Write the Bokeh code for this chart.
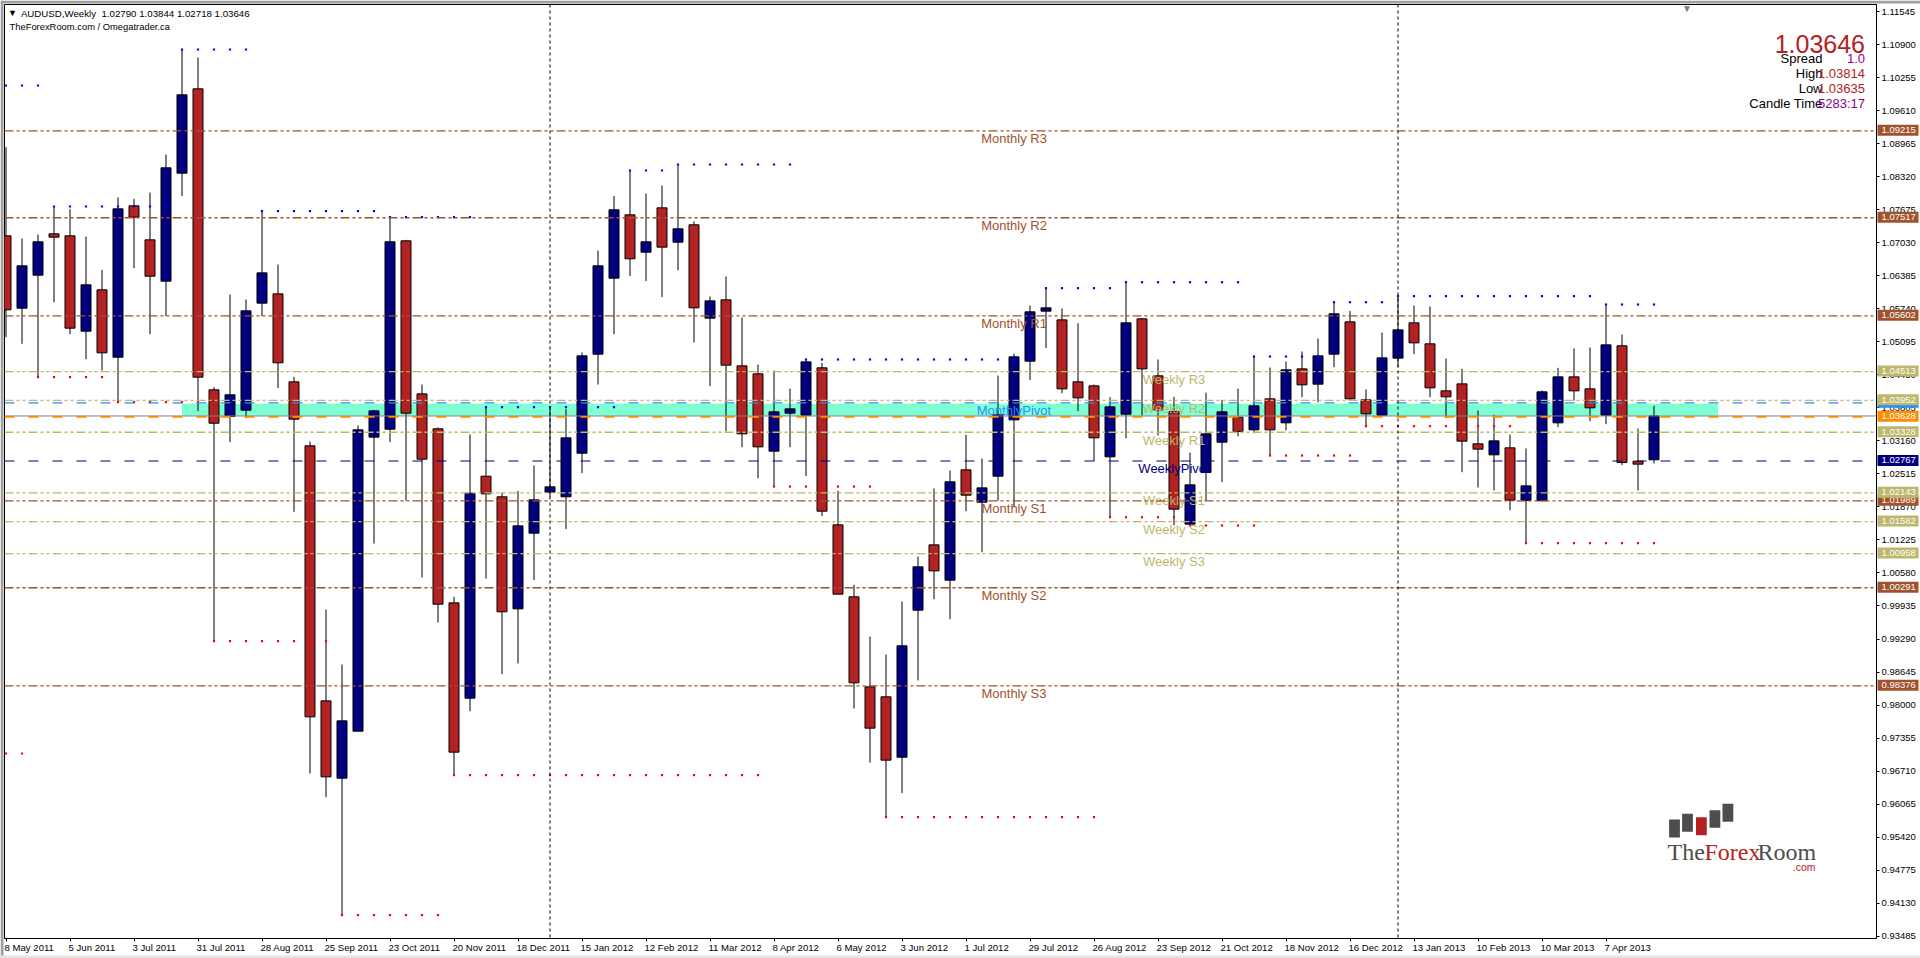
from bokeh.plotting import figure
from bokeh.embed import file_html
from bokeh.resources import INLINE
from bokeh.models import Range1d, FixedTicker, PrintfTickFormatter, Span, Label
from bokeh.core.properties import value

# ---- data (weekly AUDUSD bars) ----
opens = [1.07164,1.05751,1.06396,1.07203,1.07164,1.05302,1.06109,1.04794,1.07750,1.07086,1.06279,1.08388,1.10035,1.04156,1.03636,1.03759,1.05849,1.06031,1.04313,1.03063,
0.98082,0.96572,0.97490,1.03232,1.03388,1.07066,1.04078,1.03395,0.99996,0.98135,1.02470,1.02067,0.99879,1.01357,1.02158,1.02067,1.02919,1.04853,1.06337,1.07574,
1.06845,1.07711,1.07040,1.07379,1.05556,1.05914,1.04625,1.04469,1.02958,1.03701,1.03662,1.04586,1.01520,1.00114,0.98356,0.98161,0.96982,0.99853,1.01129,1.00439,
1.02594,1.01962,1.02470,1.03570,1.04716,1.05693,1.05523,1.04313,1.04234,1.02848,1.03681,1.05543,1.04430,1.03733,1.01533,1.02542,1.03134,1.03622,1.03375,1.03981,
1.03512,1.04566,1.04267,1.04853,1.05484,1.03961,1.03662,1.04775,1.05465,1.05055,1.04137,1.04273,1.03102,1.02887,1.03024,1.01995,1.01991,1.03512,1.04410,1.04176,
1.03662,1.05016,1.02763,1.02790]
highs = [1.08896,1.07112,1.07190,1.07737,1.07685,1.07151,1.06500,1.07913,1.07887,1.08010,1.08752,1.10803,1.10647,1.04208,1.06018,1.05920,1.07646,1.06604,1.04410,1.03147,
0.99866,0.98792,1.03460,1.03766,1.07529,1.07086,1.04260,1.03421,1.00114,1.03284,1.03818,1.02151,1.02184,1.02679,1.03831,1.03779,1.04885,1.06877,1.07945,1.08440,
1.07991,1.08147,1.08557,1.07444,1.05979,1.06370,1.05569,1.04651,1.04534,1.04182,1.04762,1.04684,1.02184,1.00348,0.99339,0.98987,1.00022,1.00901,1.02229,1.02581,
1.03277,1.02815,1.04436,1.04859,1.05803,1.06142,1.05745,1.05458,1.04260,1.04013,1.06259,1.05562,1.04749,1.04020,1.02932,1.04098,1.03961,1.04182,1.04807,1.04592,
1.04710,1.04905,1.05159,1.05868,1.05699,1.04163,1.05276,1.05986,1.05803,1.05784,1.04768,1.04566,1.03753,1.03668,1.03284,1.03011,1.04143,1.04586,1.04964,1.04983,
1.05823,1.05237,1.03401,1.03844]
lows = [1.05185,1.05055,1.04404,1.05868,1.05244,1.04755,1.04534,1.03915,1.06532,1.05244,1.05595,1.07939,1.03740,0.99248,1.03134,1.03603,1.05595,1.04189,1.01774,0.96663,
0.96201,0.93896,0.97490,1.01155,1.03134,1.01991,1.00491,0.99612,0.96631,0.97881,1.00472,0.98603,0.98812,1.00439,1.02060,1.01435,1.02529,1.04260,1.05244,1.06376,
1.06279,1.05966,1.06493,1.05081,1.04228,1.03343,1.03037,1.02431,1.02262,1.03037,1.02470,1.01689,1.00166,0.97933,0.96878,0.95810,0.96279,0.98480,1.00068,0.99677,
1.01787,1.00986,1.01991,1.01871,1.04345,1.04970,1.04091,1.03740,1.02770,1.01676,1.03212,1.03655,1.03264,1.01513,1.01507,1.01988,1.02353,1.03251,1.03310,1.02874,
1.03362,1.04013,1.03915,1.04599,1.03961,1.03447,1.03642,1.04599,1.04853,1.04013,1.03603,1.02548,1.02249,1.02190,1.01806,1.01162,1.01991,1.03427,1.03948,1.03544,
1.03486,1.02685,1.02190,1.02718]
closes = [1.05719,1.06578,1.07047,1.07138,1.05361,1.06207,1.04879,1.07691,1.07529,1.06376,1.08492,1.09918,1.04404,1.03505,1.04059,1.05699,1.06441,1.04684,1.03583,0.97770,
0.96598,0.97692,1.03375,1.03746,1.07048,1.03701,1.02802,0.99970,0.97080,1.02138,1.02125,0.99821,1.01500,1.02008,1.02262,1.03219,1.04820,1.06578,1.07672,1.06715,
1.07047,1.06943,1.07301,1.05758,1.05894,1.04638,1.03297,1.03043,1.03727,1.03785,1.04703,1.01787,1.00166,0.98434,0.97549,0.96924,0.99157,1.00700,1.00621,1.02360,
1.02099,1.02242,1.03668,1.04801,1.05680,1.05758,1.04176,1.04000,1.03219,1.03824,1.05465,1.04566,1.03766,1.01826,1.02301,1.03297,1.03727,1.03343,1.03844,1.03375,
1.04547,1.04254,1.04820,1.05641,1.03981,1.03688,1.04781,1.05328,1.05074,1.04195,1.04020,1.03154,1.02998,1.03160,1.02002,1.02281,1.04117,1.04410,1.04137,1.03805,
1.05035,1.02737,1.02705,1.03646]

date_labels = ["8 May 2011","5 Jun 2011","3 Jul 2011","31 Jul 2011","28 Aug 2011","25 Sep 2011","23 Oct 2011","20 Nov 2011","18 Dec 2011","15 Jan 2012",
"12 Feb 2012","11 Mar 2012","8 Apr 2012","6 May 2012","3 Jun 2012","1 Jul 2012","29 Jul 2012","26 Aug 2012","23 Sep 2012","21 Oct 2012",
"18 Nov 2012","16 Dec 2012","13 Jan 2013","10 Feb 2013","10 Mar 2013","7 Apr 2013"]
price_ticks = [1.11545,1.10900,1.10255,1.09610,1.08965,1.08320,1.07675,1.07030,1.06385,1.05740,1.05095,1.04450,1.03805,1.03160,1.02515,1.01870,1.01225,1.00580,0.99935,0.99290,
0.98645,0.98000,0.97355,0.96710,0.96065,0.95420,0.94775,0.94130,0.93485]

# fractal dotted levels: first bar, last bar, price
res_first = [0,3,11,16,24,30,39,42,50,65,70,78,83,87,100]
res_last  = [2,10,15,23,29,38,41,49,64,69,77,82,86,99,103]
res_price = [1.10100,1.07737,1.10803,1.07646,1.07529,1.03818,1.08440,1.08557,1.04749,1.06142,1.06259,1.04807,1.05868,1.05986,1.05823]
sup_first = [0,2,7,13,21,28,48,55,69,74,79,85,95]
sup_last  = [1,6,12,20,27,47,54,68,73,78,84,94,103]
sup_price = [0.97054,1.04404,1.03915,0.99248,0.93896,0.96631,1.02268,0.95810,1.01669,1.01507,1.02874,1.03447,1.01162]

# pivot levels
monthly_names = ["Monthly R3","Monthly R2","Monthly R1","Monthly S1","Monthly S2","Monthly S3"]
monthly_levels = [1.09215,1.07517,1.05602,1.01989,1.00291,0.98376]
weekly_names = ["Weekly R3","Weekly R2","Weekly R1","Weekly S1","Weekly S2","Weekly S3"]
weekly_levels = [1.04513,1.03952,1.03328,1.02143,1.01582,1.00958]
monthly_pivot = 1.03902
weekly_pivot = 1.02767
bid = 1.03646
ask_line = 1.03628
zone_low, zone_high = 1.03650, 1.03885
zone_first, zone_last = 11, 107
vlines = [34, 87]

FONT = "Liberation Sans"
SIENNA, KHAKI, FIRE, NAVY = "#A0522D", "#BDB76B", "#B22222", "#000080"
W, H = 1920, 958
F_L, F_R, F_T, F_B = 4, 1876, 4, 938
BAR0, STEP = 5.5, 16.0
P_TOP, P_BOT = 1.11682, 0.93441

p = figure(width=W, height=H, output_backend="svg", toolbar_location=None,
           x_range=Range1d((F_L-BAR0)/STEP, (F_R-BAR0)/STEP),
           y_range=Range1d(P_BOT, P_TOP),
           y_axis_location="right", min_border_left=F_L, min_border_right=W-F_R,
           min_border_top=F_T, min_border_bottom=H-F_B)
p.styles = {"position": "absolute", "left": "0px", "top": "0px"}
p.grid.visible = False
p.outline_line_color = "black"
p.background_fill_color = "white"
p.border_fill_color = "white"

idx = list(range(len(opens)))
ticks_x = idx[::4]

ax = p.yaxis[0]
ax.ticker = FixedTicker(ticks=price_ticks)
ax.formatter = PrintfTickFormatter(format="%.5f")
ax.major_label_text_font = FONT
ax.major_label_text_font_size = "9.5px"
ax.major_label_text_color = "black"
ax.major_tick_in = 0
ax.major_tick_out = 3
ax.minor_tick_line_color = None
ax.major_label_standoff = 2

bx = p.xaxis[0]
bx.ticker = FixedTicker(ticks=ticks_x)
bx.major_label_overrides = {t: "" for t in ticks_x}
bx.major_tick_in = 0
bx.major_tick_out = 3
bx.minor_tick_line_color = None
bx.major_label_text_font_size = "1px"

# zone
p.quad(left=[zone_first], right=[zone_last], bottom=[zone_low], top=[zone_high], fill_color="#7FFFD4", line_color=None)

# dotted levels
def dots(first, last, price):
    xs, ys = [], []
    for a, b, v in zip(first, last, price):
        for i in range(a, b+1):
            xs.append(i); ys.append(v)
    return xs, ys
rx, ry = dots(res_first, res_last, res_price)
sx, sy = dots(sup_first, sup_last, sup_price)

# candles
up = [i for i in idx if closes[i] >= opens[i]]
dn = [i for i in idx if closes[i] < opens[i]]
p.segment(idx, highs, idx, lows, line_color="black", line_width=1)
for sel, col in ((up, NAVY), (dn, FIRE)):
    p.quad(left=[i-0.3125 for i in sel], right=[i+0.3125 for i in sel],
           top=[max(opens[i], closes[i]) for i in sel], bottom=[min(opens[i], closes[i]) for i in sel],
           fill_color=col, line_color="black", line_width=1)

p.scatter(rx, ry, marker="square", size=2.2, fill_color="#0000FF", line_color=None)
p.scatter(sx, sy, marker="square", size=2.2, fill_color="#FF0000", line_color=None)

# horizontal levels
p.add_layout(Span(location=bid, dimension="width", line_color="#808080", line_width=1))
for v in monthly_levels:
    p.add_layout(Span(location=v, dimension="width", line_color=SIENNA, line_width=1.3, line_dash="9 3 3 3 3 3"))
for v in weekly_levels:
    p.add_layout(Span(location=v, dimension="width", line_color=KHAKI, line_width=1.3, line_dash="9 3 3 3 3 3"))
p.add_layout(Span(location=monthly_pivot, dimension="width", line_color="#1E90FF", line_width=1.2, line_dash="10 14"))
p.add_layout(Span(location=ask_line, dimension="width", line_color="#FF8C00", line_width=1.6, line_dash="10 14"))
p.add_layout(Span(location=weekly_pivot, dimension="width", line_color=NAVY, line_width=1.2, line_dash="10 14"))
for v in vlines:
    p.add_layout(Span(location=v, dimension="height", line_color="black", line_width=1, line_dash="3 3"))

# level names
def name(txt, x, y, col):
    p.text([x], [y], text=[txt], text_font=value(FONT), text_font_size="13px", text_color=col,
           text_align="center", text_baseline="middle", y_offset=8)
for n, v in zip(monthly_names, monthly_levels):
    name(n, 63, v, SIENNA)
name("MonthlyPivot", 63, monthly_pivot, "#1E90FF")
for n, v in zip(weekly_names, weekly_levels):
    name(n, 73, v, KHAKI)
name("WeeklyPivot", 73, weekly_pivot, NAVY)

def lab(txt, x, y, size, col, align="left", font=FONT, **kw):
    p.add_layout(Label(x=x, y=y, x_units="canvas", y_units="canvas", text=txt, text_font=font,
                       text_font_size=size, text_color=col, text_align=align, text_baseline="middle", **kw))

# header
lab("\u25BC", 7.5, 12.5, "9px", "black")
lab("AUDUSD,Weekly\u00a0\u00a01.02790 1.03844 1.02718 1.03646", 20.4, 12.7, "9.7px", "black")
lab("TheForexRoom.com / Omegatrader.ca", 9, 26, "9.4px", "black")
lab("\u25BC", 1681.5, 8, "10px", "#708090")

# info block
lab("1.03646", 1864.5, 43, "25px", FIRE, "right")
for t, y, c, val, vc in (("Spread", 58, "black", "1.0", "#8B008B"), ("High", 73, "black", "1.03814", FIRE),
                         ("Low", 88, "black", "1.03635", FIRE), ("Candle Time", 103, "black", "5283:17", "#8B008B")):
    lab(t, 1822, y, "13px", c, "right")
    lab(val, 1864.5, y, "13px", vc, "right")

# logo
to_x = lambda px: (px-BAR0)/STEP
to_p = lambda py: P_TOP-(py-F_T)/(F_B-F_T)*(P_TOP-P_BOT)
logo_l = [1668.6,1681.6,1695.5,1709,1722]
logo_t = [819,813.3,816.7,809.7,803.3]
logo_b = [837,831.3,834.7,827.3,821.3]
logo_c = ["#4D4D4D","#4D4D4D",FIRE,"#4D4D4D","#4D4D4D"]
p.quad(left=[to_x(a) for a in logo_l], right=[to_x(a+10.8) for a in logo_l], top=[to_p(a) for a in logo_t],
       bottom=[to_p(a) for a in logo_b], fill_color=logo_c, line_color=None)
lab("The", 1667, 851, "24px", "#4D4D4D", font="Liberation Serif")
lab("Forex", 1704, 851, "24px", FIRE, font="Liberation Serif")
lab("Room", 1757, 851, "24px", "#4D4D4D", font="Liberation Serif")
lab(".com", 1815, 866, "10.5px", FIRE, "right")

# overlay sheet spanning the whole window: date labels, price tags and window edge
q = figure(width=W, height=H, output_backend="svg", toolbar_location=None,
           x_range=Range1d(0, W), y_range=Range1d(H, 0), x_axis_location=None, y_axis_location=None,
           min_border=0, min_border_left=0, min_border_right=0, min_border_top=0, min_border_bottom=0,
           background_fill_color=None, border_fill_color=None, outline_line_color=None)
q.styles = {"position": "absolute", "left": "0px", "top": "0px", "pointer-events": "none"}
q.grid.visible = False
q.quad(left=[0, 0, 0], right=[W, 3, W], top=[0, 0, 955], bottom=[3, H, H],
       fill_color=["#A0A0A0", "#A0A0A0", "#E4E4E4"], line_color=None)
q.text([BAR0+t*STEP-1.5 for t in ticks_x], [947]*len(ticks_x), text=date_labels, text_font=value(FONT),
       text_font_size="9.6px", text_color="black", text_align="left", text_baseline="middle")
tags = [(monthly_pivot, "#1E90FF")] + list(zip(monthly_levels, [SIENNA]*6)) + list(zip(weekly_levels, [KHAKI]*6)) + [(ask_line, "#FF8C00"), (weekly_pivot, NAVY)]
for v, col in tags:
    py = F_T + (P_TOP-v)/(P_TOP-P_BOT)*(F_B-F_T) - 0.6
    q.quad(left=[1877], right=[1918], top=[py-5.5], bottom=[py+5.5], fill_color=col, line_color=None)
    q.text([1881], [py], text=["%.5f" % v], text_font=value(FONT), text_font_size="9.5px", text_color="white",
           text_align="left", text_baseline="middle")

open("out.html", "w").write(file_html([p, q], INLINE))
